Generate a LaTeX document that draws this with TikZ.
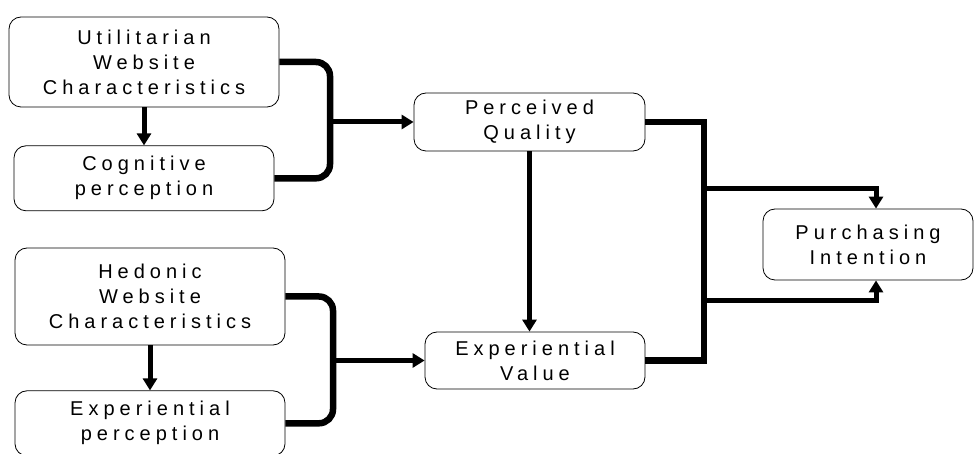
\documentclass[tikz,border=0pt]{standalone}
\usepackage{fontspec}
\usepackage{tikz}
\usetikzlibrary{positioning,arrows.meta}
\newfontfamily\boxfont{Liberation Sans}[LetterSpace=25]

\begin{document}
\begin{tikzpicture}[x=1pt,y=-1pt,>={Triangle[width=14pt,length=12pt]},
	box/.style={draw,line width=0.8pt,rounded corners=12pt,align=center,inner sep=0pt,
		font=\boxfont\fontsize{20}{25}\selectfont},
	arr/.style={->,line width=5pt},
	brace/.style={line width=6.5pt,rounded corners=14pt},
	bus/.style={line width=6.5pt}]
	\useasboundingbox (0,0) rectangle (975,454);

	\node[box,minimum width=270pt,minimum height=90pt] (util) at (144,62) {Utilitarian\\Website\\Characteristics};
	\node[box,minimum width=260pt,minimum height=65pt] (cog) [below=38pt of util] {Cognitive\\perception};
	\node[box,minimum width=270pt,minimum height=97pt] (hed) at (150,296.5) {Hedonic\\Website\\Characteristics};
	\node[box,minimum width=270pt,minimum height=65pt] (expp) [below=45pt of hed] {Experiential\\perception};
	\node[box,minimum width=231pt,minimum height=58pt] (pq) at (529.5,122) {Perceived\\Quality};
	\node[box,minimum width=220pt,minimum height=57pt] (ev) at (535,360.5) {Experiential\\Value};
	\node[box,minimum width=210pt,minimum height=71pt] (pi) at (868,244.5) {Purchasing\\Intention};

	\coordinate (j1) at (330,122);
	\coordinate (j2) at (333,360.5);
	\coordinate (j3) at (704,240);
	\coordinate (b1) at (704,189);
	\coordinate (b2) at (704,301);

	\draw[arr] (util) -- (cog);
	\draw[arr] (hed) -- (expp);
	\draw[brace] (util.east) -| (j1) |- (cog.east);
	\draw[brace] (hed.east) -| (j2) |- (expp.east);
	\draw[arr] (j1) -- (pq);
	\draw[arr] (j2) -- (ev);
	\draw[arr] (pq.south) -- (pq.south |- ev.north);
	\draw[bus] (pq.east) -| (j3) |- (ev.east);
	\draw[arr] (b1) -| ([xshift=8pt]pi.north);
	\draw[arr] (b2) -| ([xshift=8pt]pi.south);
\end{tikzpicture}
\end{document}
